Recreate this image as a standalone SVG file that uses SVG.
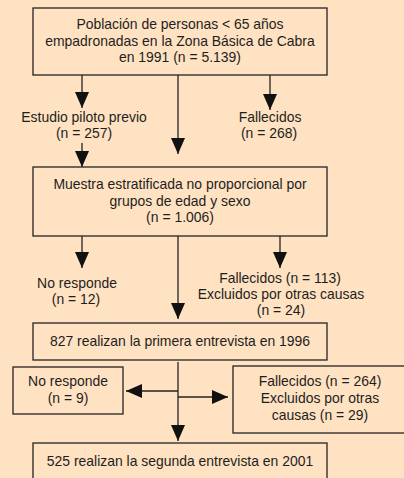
<svg xmlns="http://www.w3.org/2000/svg" width="404" height="478" viewBox="0 0 404 478">
<defs>
<style>
.box{fill:none;stroke:#222;stroke-width:1.3}
.ln{stroke:#222;stroke-width:1.3;fill:none;marker-end:url(#ah)}
text{font-family:"Liberation Sans",Arial,sans-serif;font-size:14.3px;fill:#1e1e1e;text-anchor:middle}
</style>
<marker id="ah" viewBox="0 0 16 14" refX="16" refY="7" markerWidth="16" markerHeight="14" markerUnits="userSpaceOnUse" orient="auto">
<path d="M0,0 L16,7 L0,14 z" fill="#111"/>
</marker>
</defs>
<rect x="0" y="0" width="404" height="478" fill="#FEE2C2"/>
<g id="connectors">
<line class="ln" x1="82" y1="75" x2="82" y2="108"/>
<line class="ln" x1="178" y1="75" x2="178" y2="154"/>
<line class="ln" x1="270" y1="75" x2="270" y2="110"/>
<line class="ln" x1="82" y1="143" x2="82" y2="167"/>
<line class="ln" x1="82" y1="236" x2="82" y2="268"/>
<line class="ln" x1="178" y1="236" x2="178" y2="319"/>
<line class="ln" x1="280" y1="236" x2="280" y2="268"/>
<line class="ln" x1="178" y1="362" x2="178" y2="441"/>
<line class="ln" x1="178" y1="391" x2="126" y2="391"/>
<line class="ln" x1="178" y1="397" x2="228" y2="397"/>
</g>
<g id="n1">
<rect class="box" x="33" y="8" width="294" height="67"/>
<text transform="translate(180,29.3) scale(0.975,1)">Población de personas &lt; 65 años</text>
<text transform="translate(180,45.7) scale(0.975,1)">empadronadas en la Zona Básica de Cabra</text>
<text transform="translate(180,62) scale(0.975,1)">en 1991 (n = 5.139)</text>
</g>
<g id="n_piloto">
<text transform="translate(84,122) scale(0.975,1)">Estudio piloto previo</text>
<text transform="translate(84,138) scale(0.975,1)">(n = 257)</text>
</g>
<g id="n_fall1">
<text transform="translate(270,122) scale(0.975,1)">Fallecidos</text>
<text transform="translate(269,138) scale(0.975,1)">(n = 268)</text>
</g>
<g id="n2">
<rect class="box" x="33" y="167" width="294" height="69"/>
<text transform="translate(180,189) scale(0.975,1)">Muestra estratificada no proporcional por</text>
<text transform="translate(180,205.5) scale(0.975,1)">grupos de edad y sexo</text>
<text transform="translate(180,222) scale(0.975,1)">(n = 1.006)</text>
</g>
<g id="n_nores1">
<text transform="translate(77,288) scale(0.975,1)">No responde</text>
<text transform="translate(76,304) scale(0.975,1)">(n = 12)</text>
</g>
<g id="n_fall2">
<text transform="translate(280,283) scale(0.975,1)">Fallecidos (n = 113)</text>
<text transform="translate(281,299) scale(0.975,1)">Excluidos por otras causas</text>
<text transform="translate(281,315) scale(0.975,1)">(n = 24)</text>
</g>
<g id="n3">
<rect class="box" x="33" y="323" width="294" height="37"/>
<text transform="translate(180,346) scale(0.975,1)">827 realizan la primera entrevista en 1996</text>
</g>
<g id="n_nores2">
<rect class="box" x="13" y="367" width="110" height="47"/>
<text transform="translate(68,386) scale(0.975,1)">No responde</text>
<text transform="translate(68,403) scale(0.975,1)">(n = 9)</text>
</g>
<g id="n_fall3">
<rect class="box" x="233" y="366" width="180" height="67"/>
<text transform="translate(320,386) scale(0.975,1)">Fallecidos (n = 264)</text>
<text transform="translate(320,403) scale(0.975,1)">Excluidos por otras</text>
<text transform="translate(320,420) scale(0.975,1)">causas (n = 29)</text>
</g>
<g id="n4">
<rect class="box" x="33" y="443" width="294" height="50"/>
<text transform="translate(180,466) scale(0.975,1)">525 realizan la segunda entrevista en 2001</text>
</g>
</svg>
